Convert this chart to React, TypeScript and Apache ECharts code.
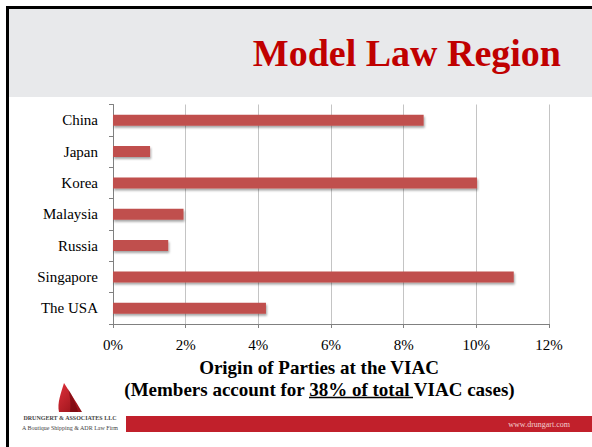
import React, { useEffect, useRef } from "react";
import * as echarts from "echarts";

const categories = ["China", "Japan", "Korea", "Malaysia", "Russia", "Singapore", "The USA"];
const shares = [8.55, 1.02, 10.02, 1.94, 1.52, 11.03, 4.21];
const xTicks = [0, 2, 4, 6, 8, 10, 12];

const titleText = "Model Law Region";
const subLine1 = "Origin of Parties at the VIAC";
const subLine2 = "(Members account for 38% of total VIAC cases)";
const firmName = "DRUNGERT & ASSOCIATES LLC";
const firmTag = "A Boutique Shipping & ADR Law Firm";
const website = "www.drungart.com";

const SERIF = "'Liberation Serif', 'Times New Roman', serif";

echarts.graphic.registerShape(
  "sail",
  echarts.graphic.extendPath("M6 0 C11 8 17 17 24 29 L1 29 C-1 20 3 10 6 0 Z", {})
);
echarts.graphic.registerShape(
  "sail2",
  echarts.graphic.extendPath("M10 6 C14 12 18 20 20 29 L12 29 C13 20 12 12 10 6 Z", {})
);

export default function App() {
  const ref = useRef<HTMLDivElement>(null);

  useEffect(() => {
    if (!ref.current) return;
    const chart = echarts.init(ref.current, undefined, { renderer: "svg" });
    chart.setOption({
      animation: false,
      backgroundColor: "#ffffff",
      grid: { left: 113, right: 43, top: 104.5, bottom: 123, containLabel: false },
      xAxis: {
        type: "value",
        min: xTicks[0],
        max: xTicks[xTicks.length - 1],
        interval: 2,
        axisLabel: {
          formatter: "{value}%",
          fontFamily: SERIF,
          fontSize: 15,
          color: "#000",
          margin: 13,
        },
        axisLine: { show: true, lineStyle: { color: "#808080", width: 1 } },
        axisTick: { show: true, length: 4, lineStyle: { color: "#808080" } },
        splitLine: { show: true, lineStyle: { color: "#c4c4c4", width: 1 } },
      },
      yAxis: {
        type: "category",
        inverse: true,
        data: categories,
        axisLabel: { fontFamily: SERIF, fontSize: 15, color: "#000", margin: 15 },
        axisLine: { show: true, lineStyle: { color: "#808080", width: 1 } },
        axisTick: { show: true, length: 4, lineStyle: { color: "#808080" } },
        splitLine: { show: false },
      },
      series: [
        {
          type: "bar",
          data: shares,
          barWidth: 11,
          itemStyle: {
            color: "#C0504D",
            shadowColor: "rgba(0,0,0,0.35)",
            shadowBlur: 2,
            shadowOffsetX: 1,
            shadowOffsetY: 2,
          },
        },
      ],
      graphic: [
        { type: "rect", shape: { x: 9, y: 9, width: 583, height: 88 }, style: { fill: "#E8E9EB" }, z: 0 },
        { type: "rect", shape: { x: 6, y: 6, width: 586, height: 3 }, style: { fill: "#000" }, z: 1 },
        { type: "rect", shape: { x: 6, y: 6, width: 3, height: 441 }, style: { fill: "#000" }, z: 1 },
        {
          type: "text",
          x: 561,
          y: 53,
          style: {
            text: titleText,
            fontFamily: SERIF,
            fontWeight: "bold",
            fontSize: 38,
            fill: "#C00000",
            align: "right",
            verticalAlign: "middle",
          },
          z: 2,
        },
        {
          type: "text",
          x: 319,
          y: 367,
          style: {
            text: subLine1,
            fontFamily: SERIF,
            fontWeight: "bold",
            fontSize: 19,
            fill: "#000",
            align: "center",
            verticalAlign: "middle",
          },
        },
        {
          type: "text",
          x: 319.5,
          y: 389,
          style: {
            text: subLine2,
            fontFamily: SERIF,
            fontWeight: "bold",
            fontSize: 19,
            fill: "#000",
            align: "center",
            verticalAlign: "middle",
          },
        },
        { type: "line", shape: { x1: 309, y1: 397.5, x2: 413, y2: 397.5 }, style: { stroke: "#000", lineWidth: 1.3 } },
        { type: "rect", shape: { x: 126, y: 416, width: 466, height: 16 }, style: { fill: "#C1202B" } },
        {
          type: "text",
          x: 570,
          y: 424,
          style: {
            text: website,
            fontFamily: SERIF,
            fontSize: 8,
            fill: "#F3D0D0",
            align: "right",
            verticalAlign: "middle",
          },
        },
        {
          type: "sail",
          x: 58,
          y: 383,
          scaleX: 1,
          scaleY: 1,
          style: {
            fill: new echarts.graphic.LinearGradient(0, 0, 1, 1, [
              { offset: 0, color: "#E0303A" },
              { offset: 1, color: "#8E0F16" },
            ]),
          },
        },
        {
          type: "sail2",
          x: 58,
          y: 383,
          scaleX: 1,
          scaleY: 1,
          style: { fill: "rgba(110,5,12,0.6)" },
        },
        {
          type: "text",
          x: 70,
          y: 418,
          style: {
            text: firmName,
            fontFamily: SERIF,
            fontWeight: "bold",
            fontSize: 6,
            fill: "#444",
            align: "center",
            verticalAlign: "middle",
          },
        },
        {
          type: "text",
          x: 70,
          y: 428,
          style: {
            text: firmTag,
            fontFamily: SERIF,
            fontSize: 6,
            fill: "#444",
            align: "center",
            verticalAlign: "middle",
          },
        },
      ],
    });
    return () => chart.dispose();
  }, []);

  return (
    <div
      ref={ref}
      style={{ position: "fixed", left: 0, top: 0, width: 592, height: 447, background: "#fff" }}
    />
  );
}
